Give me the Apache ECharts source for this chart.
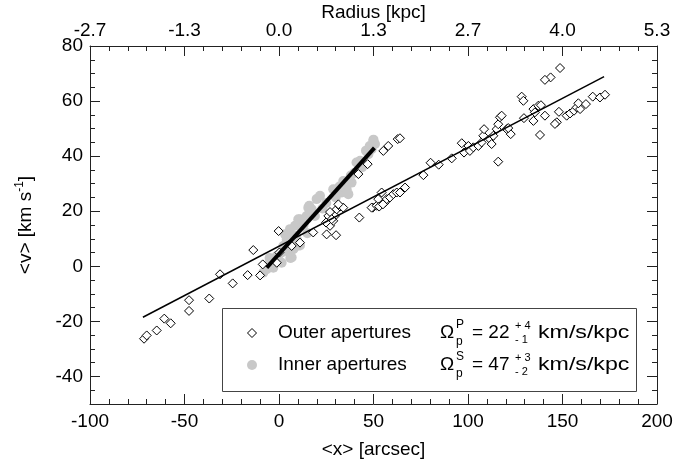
<!DOCTYPE html>
<html>
<head>
<meta charset="utf-8">
<script src="https://cdn.jsdelivr.net/npm/echarts@6/dist/echarts.min.js"></script>
<style>html,body{margin:0;padding:0;background:#fff}#c{width:689px;height:461px}</style>
</head>
<body>
<div id="c"></div>
<script>
// ---- data ----
const outerX = [-71.4,-70,-64.7,-60.7,-57.3,-47.6,-47.6,-36.9,-31.2,-24.5,-16.6,-13.6,-8.6,-10,-0.2,
  0.2,-1.2,6.7,11.1,18.1,25.2,30.2,27,28.7,26.1,29.6,30.5,32.3,34,31.4,27,27.9,24.9,42,46.9,42.5,49.6,52.5,
  49,51.7,52.5,54.3,56.1,57,58.7,60.5,62.3,64,66.7,53,55,
  55.2,57.8,62.8,64,
  76.4,80.2,84.5,91.4,96.7,97.9,100.2,101,102.8,105.5,107.2,108.1,108.5,111.6,113.4,112.5,115.2,116,116.9,117.8,116,120.5,122.6,121.3,
  148.7,143.7,140.7,128.4,129.3,129.6,134.6,135.4,134.6,137.2,138.6,140.7,138.1,147,146,148.1,152.2,154,156.1,157.5,159.3,158.4,162.4,166,169.8,172.5];
const outerY = [-26.3,-25.1,-23.3,-19,-20.7,-12.3,-16.2,-11.7,-2.9,-6.2,-3.2,5.9,0.7,-3.3,12.8,
  5,1.3,7.4,8.6,12.3,11.6,11.3,14.7,16.5,18.3,18.3,20.7,21.7,21.3,22.5,19.7,17.1,15.9,33.5,37.1,17.7,21.3,22.2,
  21.3,22,24.4,26.8,23.2,24.4,25,26.2,26.8,26.8,28.6,21.7,22.5,
  41.9,43.7,46.2,46.5,
  33.1,37.6,36.9,39.2,44.7,41.3,43.7,41.9,43.2,43.7,45,47.4,49.8,46.2,47.4,44.4,49.8,51.6,54.1,54.7,38,49.8,48,50.2,
  72,68.6,67.7,61.6,60.1,53.8,57.1,55.9,52.8,58.3,58.5,54.7,47.7,52.3,51.7,56.1,54.7,55.5,56.5,57.7,57.1,59.2,58.9,61.6,61.3,62.3];
const innerX = [-8.3,-6.5,-4.8,-3,-1.2,1.4,1.4,2.3,3.2,4.1,5.8,7.6,8.5,9.4,11.1,11.1,14.6,17.3,19,19.9,21.7,28.7,33.2,35.8,36.7,38.4,42.9,47.3,49,50.8,50,
  13,15,23,25,30,32,40,44,-5,6,9,16,38,34,46,15.5,10.2,5.8,4,6.7,9.4,-0.4,41,48,49.9];
const innerY = [-2.3,-1.1,1.3,-0.5,3.7,5,1.3,7.4,11.6,9.8,13.5,6.2,14.7,9.8,7.6,17.1,18.3,20.7,18.3,24.4,25.6,28,26.8,28,26.2,30.4,38.3,40.7,42.5,44.4,46,
  15,12,21,23,25,29,34,36,3,3,11,22,33,31,42,21.3,17.1,11.6,5.6,3.2,7.4,2.5,37.7,43.7,45.6];
const fitOuterX = [-72, 172];
const fitOuterY = [-18.5, 68.9];
const fitInnerX = [-6.5, 50.5];
const fitInnerY = [-0.5, 43];
const xTicks = [-100, -50, 0, 50, 100, 150, 200];
const radiusLabels = ['-2.7', '-1.3', '0.0', '1.3', '2.7', '4.0', '5.3'];
const yMajor = [-40, -20, 0, 20, 40, 60, 80];
const yMinor = [-45,-35,-30,-25,-15,-10,-5,5,10,15,25,30,35,45,50,55,65,70,75];

// ---- chart ----
const FONT = '"Liberation Sans", Arial, Helvetica, sans-serif';
const AX = '#222';
const zip = (a, b) => a.map((v, i) => [v, b[i]]);
const chart = echarts.init(document.getElementById('c'), null, {renderer: 'canvas'});

function yAx(pos, vals, len, showLine, showLabel, extra) {
  return Object.assign({
    type: 'value', position: pos, min: -50, max: 80, gridIndex: 0,
    axisLine: {show: showLine, onZero: false, lineStyle: {color: AX, width: 1}},
    axisTick: {show: true, inside: true, length: len, customValues: vals, lineStyle: {color: AX}},
    axisLabel: showLabel ? {show: true, customValues: vals, color: '#000', fontSize: 19, fontFamily: FONT, margin: 7} : {show: false},
    splitLine: {show: false}
  }, extra || {});
}

chart.setOption({
  animation: false,
  backgroundColor: '#fff',
  grid: {left: 90, right: 32, top: 46, bottom: 57, containLabel: false, outerBoundsMode: 'none'},
  xAxis: [
    {type: 'value', position: 'bottom', min: -100, max: 200, interval: 50,
     axisLine: {onZero: false, lineStyle: {color: AX}},
     axisTick: {inside: true, length: 10, lineStyle: {color: AX}},
     minorTick: {show: true, splitNumber: 5, length: 5, lineStyle: {color: AX}},
     axisLabel: {color: '#000', fontSize: 19, fontFamily: FONT, margin: 8},
     splitLine: {show: false}, minorSplitLine: {show: false},
     name: '<x> [arcsec]', nameLocation: 'middle', nameGap: 36, nameMoveOverlap: false,
     nameTextStyle: {color: '#000', fontSize: 19, fontFamily: FONT}},
    {type: 'value', position: 'top', min: -100, max: 200, interval: 50,
     axisLine: {onZero: false, lineStyle: {color: AX}},
     axisTick: {inside: true, length: 10, lineStyle: {color: AX}},
     minorTick: {show: true, splitNumber: 5, length: 5, lineStyle: {color: AX}},
     axisLabel: {color: '#000', fontSize: 19, fontFamily: FONT, margin: 6,
       formatter: v => { const i = xTicks.indexOf(v); return i >= 0 ? radiusLabels[i] : ''; }},
     splitLine: {show: false},
     name: 'Radius [kpc]', nameLocation: 'middle', nameGap: 24, nameMoveOverlap: false,
     nameTextStyle: {color: '#000', fontSize: 19, fontFamily: FONT}}
  ],
  yAxis: [
    yAx('left', yMajor, 10, true, true, {
      name: '{n|<v> [km s}{s|-1}{n|]}', nameLocation: 'middle', nameGap: 52, nameRotate: 90,
      nameTextStyle: {color: '#000', fontFamily: FONT, rich: {
        n: {fontSize: 19, fontFamily: FONT, color: '#000', lineHeight: 24},
        s: {fontSize: 12, fontFamily: FONT, color: '#000', verticalAlign: 'top', lineHeight: 24}
      }}
    }),
    yAx('left', yMinor, 5, false, false),
    yAx('right', yMajor, 10, true, false),
    yAx('right', yMinor, 5, false, false)
  ],
  series: [
    {type: 'scatter', name: 'Inner apertures', xAxisIndex: 0, yAxisIndex: 0, data: zip(innerX, innerY),
     symbol: 'circle', symbolSize: 10, itemStyle: {color: '#c8c8c8', opacity: 1}, z: 1},
    {type: 'scatter', name: 'Outer apertures', xAxisIndex: 0, yAxisIndex: 0, data: zip(outerX, outerY),
     symbol: 'diamond', symbolSize: 9, itemStyle: {color: '#fff', borderColor: '#000', borderWidth: 1, opacity: 1}, z: 2},
    {type: 'line', xAxisIndex: 0, yAxisIndex: 0, data: zip(fitOuterX, fitOuterY), symbol: 'none',
     lineStyle: {color: '#000', width: 1.5}, z: 3},
    {type: 'line', xAxisIndex: 0, yAxisIndex: 0, data: zip(fitInnerX, fitInnerY), symbol: 'none',
     lineStyle: {color: '#000', width: 4}, z: 4}
  ],
  graphic: [
    {type: 'group', z: 100, children: [
      {type: 'rect', shape: {x: 222.5, y: 308.5, width: 414, height: 83}, style: {fill: '#fff', stroke: '#444', lineWidth: 1}},
      {type: 'polygon', shape: {points: [[252, 328.5], [256.5, 333], [252, 337.5], [247.5, 333]]}, style: {fill: '#fff', stroke: '#000', lineWidth: 1}},
      {type: 'circle', shape: {cx: 252, cy: 365, r: 5}, style: {fill: '#c8c8c8'}},
      {type: 'text', x: 278, y: 333, style: {text: 'Outer apertures', font: '19px ' + FONT, fill: '#000', verticalAlign: 'middle'}},
      {type: 'text', x: 278, y: 365, style: {text: 'Inner apertures', font: '19px ' + FONT, fill: '#000', verticalAlign: 'middle'}},
      {type: 'text', x: 440, y: 333, style: {text: 'Ω', font: '19px ' + FONT, fill: '#000', verticalAlign: 'middle'}},
      {type: 'text', x: 440, y: 365, style: {text: 'Ω', font: '19px ' + FONT, fill: '#000', verticalAlign: 'middle'}},
      {type: 'text', x: 456, y: 325, style: {text: 'P', font: '12px ' + FONT, fill: '#000', verticalAlign: 'middle'}},
      {type: 'text', x: 456, y: 342, style: {text: 'p', font: '12px ' + FONT, fill: '#000', verticalAlign: 'middle'}},
      {type: 'text', x: 456, y: 357, style: {text: 'S', font: '12px ' + FONT, fill: '#000', verticalAlign: 'middle'}},
      {type: 'text', x: 456, y: 374, style: {text: 'p', font: '12px ' + FONT, fill: '#000', verticalAlign: 'middle'}},
      {type: 'text', x: 472, y: 333, style: {text: '= 22', font: '19px ' + FONT, fill: '#000', verticalAlign: 'middle'}},
      {type: 'text', x: 472, y: 365, style: {text: '= 47', font: '19px ' + FONT, fill: '#000', verticalAlign: 'middle'}},
      {type: 'text', x: 515, y: 326, style: {text: '+ 4', font: '11px ' + FONT, fill: '#000', verticalAlign: 'middle'}},
      {type: 'text', x: 515, y: 340, style: {text: '- 1', font: '11px ' + FONT, fill: '#000', verticalAlign: 'middle'}},
      {type: 'text', x: 515, y: 358, style: {text: '+ 3', font: '11px ' + FONT, fill: '#000', verticalAlign: 'middle'}},
      {type: 'text', x: 515, y: 372, style: {text: '- 2', font: '11px ' + FONT, fill: '#000', verticalAlign: 'middle'}},
      {type: 'text', x: 538, y: 333, scaleX: 1.22, style: {text: 'km/s/kpc', font: '19px ' + FONT, fill: '#000', verticalAlign: 'middle'}},
      {type: 'text', x: 538, y: 365, scaleX: 1.22, style: {text: 'km/s/kpc', font: '19px ' + FONT, fill: '#000', verticalAlign: 'middle'}}
    ]}
  ]
});
</script>
</body>
</html>
